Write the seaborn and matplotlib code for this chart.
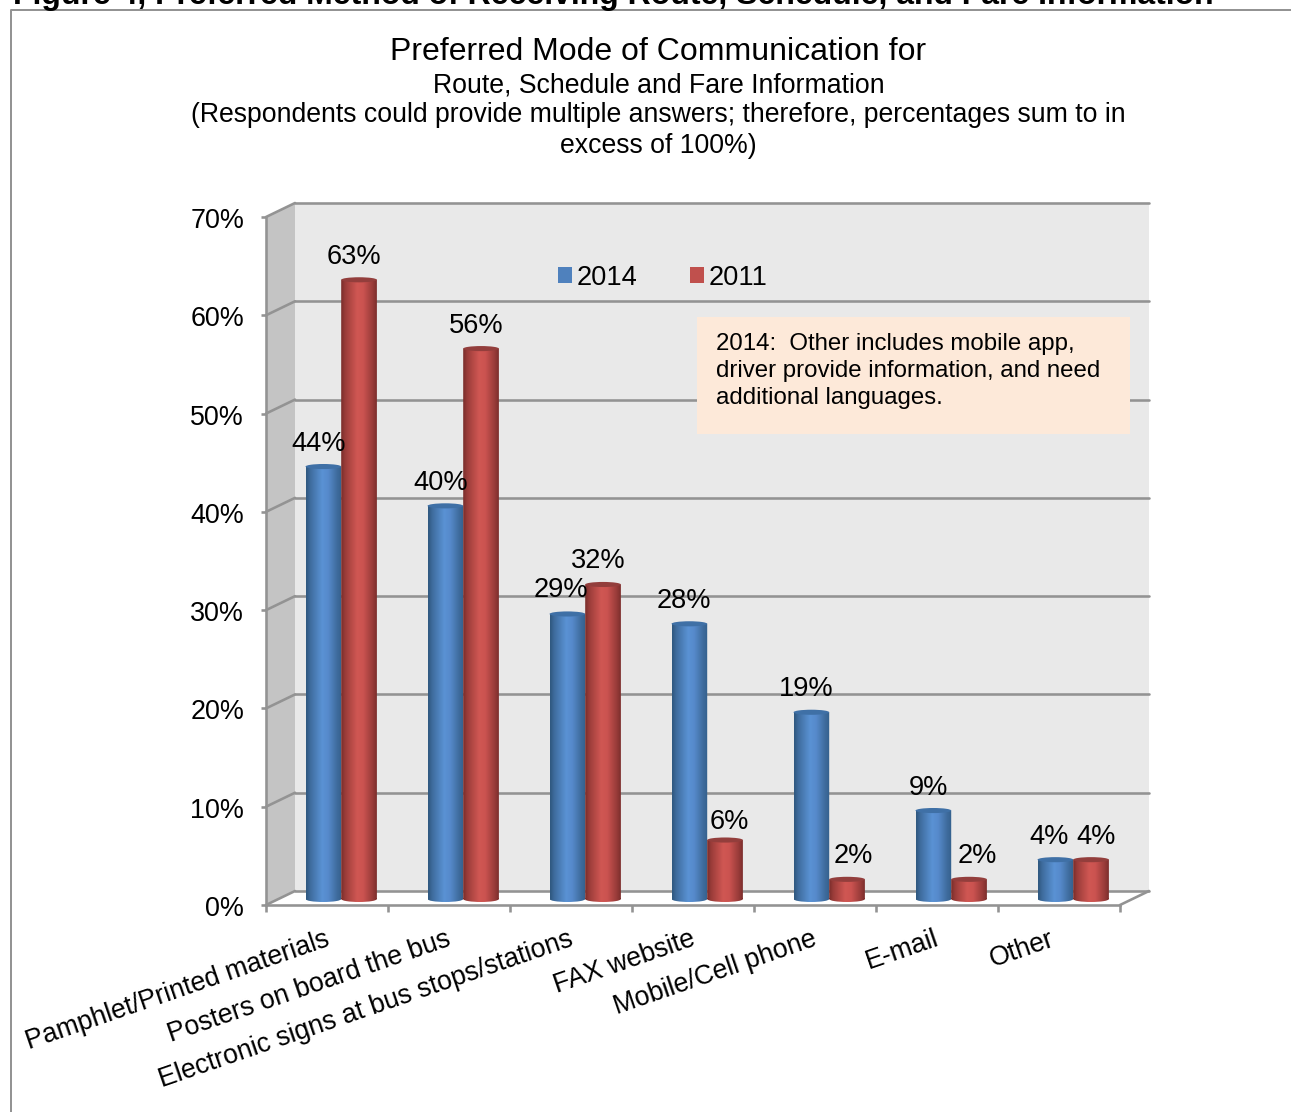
import numpy as np
import pandas as pd
import matplotlib
matplotlib.use("Agg")
import matplotlib.pyplot as plt
import seaborn as sns
from matplotlib.colors import LinearSegmentedColormap
from matplotlib.lines import Line2D
from matplotlib.patches import Ellipse, Polygon, Rectangle
from matplotlib.path import Path
from matplotlib.transforms import Affine2D, IdentityTransform, ScaledTranslation

categories = ["Pamphlet/Printed materials", "Posters on board the bus",
              "Electronic signs at bus stops/stations", "FAX website",
              "Mobile/Cell phone", "E-mail", "Other"]
values_2014 = [44, 40, 29, 28, 19, 9, 4]
values_2011 = [63, 56, 32, 6, 2, 2, 4]
series_names = ["2014", "2011"]
y_ticks = [0, 10, 20, 30, 40, 50, 60, 70]

heading = "Figure 4, Preferred Method of Receiving Route, Schedule, and Fare Information"
title_1 = "Preferred Mode of Communication for"
title_2 = "Route, Schedule and Fare Information"
title_3 = "(Respondents could provide multiple answers; therefore, percentages sum to in"
title_4 = "excess of 100%)"
note = "2014:  Other includes mobile app,\ndriver provide information, and need\nadditional languages."

W, H = 1291, 1112
DPI = 100
sns.set_style("white")
plt.rcParams["font.family"] = ["Liberation Sans", "DejaVu Sans"]
plt.rcParams["text.color"] = "black"
GRAY = "#939393"
LW = 2.6
px = 72 / DPI

fig = plt.figure(figsize=(W / DPI, H / DPI), dpi=DPI, facecolor="white")


def fig_box(l, t, r, b):
    return [l / W, 1 - b / H, (r - l) / W, (b - t) / H]


# Front plane of the 3-D frame: carries the axes, ticks and labels
ax = fig.add_axes(fig_box(266, 217, 1120, 905), facecolor="none")
ax.set_xlim(-0.5, 6.5)
ax.set_ylim(0, 70)
sns.despine(ax=ax, top=True, right=True)
for s in ("left", "bottom"):
    ax.spines[s].set_color(GRAY)
    ax.spines[s].set_linewidth(LW * px)
ax.set_yticks(y_ticks)
ax.set_yticklabels([f"{v}%" for v in y_ticks], fontsize=19.4, color="black")
ax.tick_params(axis="y", length=5 * px, width=LW * px, color=GRAY, pad=17 * px, left=True)
for lab in ax.get_yticklabels():
    lab.set_transform(lab.get_transform() + ScaledTranslation(0, -1 / DPI, fig.dpi_scale_trans))
ax.set_xticks(np.arange(7))
ax.set_xticklabels(categories, fontsize=19.2, rotation=19, ha="right", va="top",
                   rotation_mode="anchor", color="black")
ax.tick_params(axis="x", which="major", length=0, pad=21 * px)
ax.set_xticks(np.arange(-0.5, 7), minor=True)
ax.tick_params(axis="x", which="minor", bottom=True, length=7 * px, width=LW * px, color=GRAY)
label_shift = [-3, -3, -3, -3, -3, -3, -10]
for lab, s in zip(ax.get_xticklabels(), label_shift):
    lab.set_transform(lab.get_transform() + ScaledTranslation(s / DPI, 0, fig.dpi_scale_trans))

# Walls: the back wall is the front plane moved by the depth offset
dx, dy = 29, 14
back = ax.transData + ScaledTranslation(dx / DPI, dy / DPI, fig.dpi_scale_trans)
ax.add_patch(Rectangle((-0.5, 0), 7, 70, transform=back, facecolor="#e9e9e9",
                       edgecolor="none", clip_on=False, zorder=0))


def pair(x, y):
    a = ax.transData.transform((x, y))
    return a, a + np.array([dx, dy])


f0, b0 = pair(-0.5, 0)
f7, b7 = pair(-0.5, 70)
ax.add_patch(Polygon([f0, b0, b7, f7], closed=True, transform=IdentityTransform(),
                     facecolor="#c4c4c4", edgecolor="none", clip_on=False, zorder=0.5))
for v in y_ticks:
    ax.plot([-0.5, 6.5], [v, v], transform=back, color=GRAY, lw=LW * px, clip_on=False, zorder=1)
    f, b = pair(-0.5, v)
    ax.add_line(Line2D([f[0], b[0]], [f[1], b[1]], transform=IdentityTransform(),
                       color=GRAY, lw=LW * px, clip_on=False, zorder=1))
f, b = pair(6.5, 0)
ax.add_line(Line2D([f[0], b[0]], [f[1], b[1]], transform=IdentityTransform(),
                   color=GRAY, lw=LW * px, clip_on=False, zorder=1))

# Bars live half way through the depth of the frame; one unit below zero leaves room for the round foot
unit = 688 / 70
bx = fig.add_axes(fig_box(280.2, 211, 1134.2, 899 + unit), facecolor="none")
df = pd.DataFrame({
    "category": categories * 2,
    "series": [series_names[0]] * 7 + [series_names[1]] * 7,
    "value": values_2014 + values_2011,
})
base = {"2014": "#4f81bd", "2011": "#c0504d"}
sns.barplot(data=df, x="category", y="value", hue="series", hue_order=series_names,
            palette=base, order=categories, width=0.585, gap=0, saturation=1,
            ax=bx, legend=False)
bx.axis("off")

grad_pos = [0, 0.12, 0.45, 0.62, 0.88, 1]
cmaps = {
    "2014": LinearSegmentedColormap.from_list("b", list(zip(grad_pos, ["#2f587f", "#3f6d9f", "#5a92d4", "#568acb", "#3e6b9c", "#34608c"]))),
    "2011": LinearSegmentedColormap.from_list("r", list(zip(grad_pos, ["#7a2d2b", "#9c3d3a", "#d05753", "#cb5350", "#9a3c3a", "#7d2f2d"]))),
}
caps = {"2014": "#3f70a6", "2011": "#933e3c"}
grad = np.linspace(0, 1, 64).reshape(1, -1)
ell_h = 6 / unit

for k, (name, cont) in enumerate(zip(series_names, bx.containers)):
    z = 3 + k
    for bar in cont:
        x0, w, h = bar.get_x(), bar.get_width(), bar.get_height()
        bar.set_visible(False)
        circle = Path.unit_circle().transformed(
            Affine2D().scale(w / 2, ell_h / 2).translate(x0 + w / 2, 0))
        clip = Path.make_compound_path(
            Path.unit_rectangle().transformed(Affine2D().scale(w, h).translate(x0, 0)), circle)
        im = bx.imshow(grad, cmap=cmaps[name], aspect="auto", interpolation="bilinear",
                       extent=(x0, x0 + w, -ell_h, h), zorder=z, origin="lower")
        im.set_clip_path(clip, bx.transData)
        bx.add_patch(Ellipse((x0 + w / 2, h), w, ell_h * 0.85, facecolor=caps[name],
                             edgecolor="none", zorder=z + 0.1, clip_on=False))
bx.set_xlim(-0.5, 6.5)
bx.set_ylim(-1, 70)

# Data labels (pixel nudges away from the bar tops)
nudge_2014 = [(-5, 23), (-5, 23), (-6, 24), (-5, 23), (-5, 23), (-5, 23), (-6, 23)]
nudge_2011 = [(-5, 23), (-5, 23), (-5, 23), (4, 18), (6, 23), (8, 23), (5, 23)]
for cont, vals, nudges in zip(bx.containers, (values_2014, values_2011), (nudge_2014, nudge_2011)):
    for bar, v, n in zip(cont, vals, nudges):
        bx.annotate(f"{v}%", (bar.get_x() + bar.get_width() / 2, v), xytext=n,
                    textcoords="offset pixels", ha="center", va="center",
                    fontsize=19.6, color="black", zorder=10, annotation_clip=False)

# Legend
handles = [Rectangle((0, 0), 1, 1, facecolor=base[n], edgecolor="none") for n in series_names]
leg = fig.legend(handles, series_names, loc="center left",
                 bbox_to_anchor=(558 / W, 1 - 278 / H), ncols=2, frameon=False,
                 fontsize=19.6, handlelength=0.52, handleheight=0.52,
                 handletextpad=0.16, columnspacing=1.94, borderpad=0, borderaxespad=0,
                 labelcolor="black")

# Note box
fig.add_artist(Rectangle((697 / W, 1 - 434 / H), 433 / W, 117 / H, transform=fig.transFigure,
                         facecolor="#fde9d9", edgecolor="none", zorder=5))
fig.text(716 / W, 1 - 371 / H, note, fontsize=17.3, va="center", ha="left",
         linespacing=1.265, color="black", zorder=6)

# Titles
fig.text(658.5 / W, 1 - 52 / H, title_1, fontsize=23.05, ha="center", va="center", color="black")
fig.text(658.5 / W, 1 - 85 / H, title_2, fontsize=19.2, ha="center", va="center", color="black")
fig.text(658.5 / W, 1 - 115.5 / H, title_3, fontsize=19.2, ha="center", va="center", color="black")
fig.text(658.5 / W, 1 - 146 / H, title_4, fontsize=19.2, ha="center", va="center", color="black")

# Outer frame and clipped document heading
fig.add_artist(Line2D([11 / W, 11 / W, 1], [0, 1 - 10 / H, 1 - 10 / H], transform=fig.transFigure,
                      color=GRAY, lw=2 * px))
fig.text(13 / W, 1 - 4 / H, heading, fontsize=23, fontweight="bold", ha="left",
         va="baseline", color="black")

fig.savefig("out.png", dpi=DPI)
